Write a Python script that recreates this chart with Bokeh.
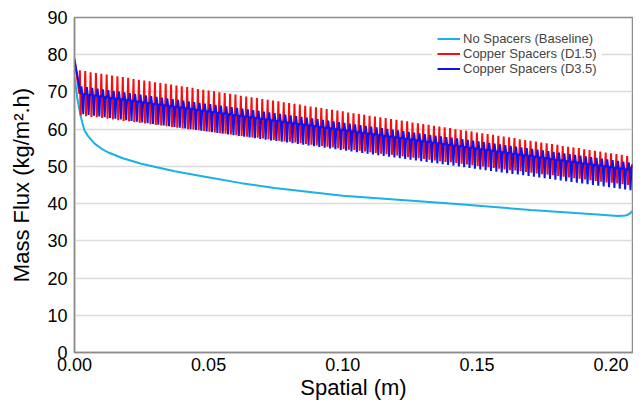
import numpy as np
from bokeh.plotting import figure
from bokeh.models import Range1d, FixedTicker
from bokeh.embed import file_html
from bokeh.resources import INLINE

# ---------------- data ----------------
# Baseline (no spacers)
base_x = [0.0, 0.0003, 0.0006, 0.001, 0.0019, 0.0027, 0.0037, 0.005, 0.0075, 0.01,
          0.0124, 0.018, 0.0249, 0.0373, 0.0497, 0.0622, 0.0746, 0.1, 0.14, 0.17,
          0.195, 0.2026, 0.2055, 0.2068, 0.208]
base_y = [74.0, 72.5, 70.9, 68.5, 65.0, 62.3, 59.7, 58.2, 56.1, 54.8,
          53.8, 52.2, 50.7, 48.7, 47.1, 45.5, 44.2, 42.1, 40.0, 38.3,
          37.1, 36.7, 36.8, 37.2, 38.0]

# Spacer pitch (m) and number of spacer cells
pitch = 0.002
n_spacers = 103
start_red = 79.0
start_blue = 78.5

red_peak = [75.8, 75.6, 75.3, 75.1, 74.9, 74.7, 74.4, 74.2, 74.0, 73.8,
            73.5, 73.3, 73.1, 72.9, 72.6, 72.4, 72.2, 72.0, 71.7, 71.5,
            71.3, 71.1, 70.8, 70.6, 70.4, 70.2, 69.9, 69.7, 69.5, 69.3,
            69.0, 68.8, 68.6, 68.4, 68.1, 67.9, 67.7, 67.5, 67.2, 67.0,
            66.8, 66.6, 66.3, 66.1, 65.9, 65.7, 65.4, 65.2, 65.0, 64.8,
            64.5, 64.3, 64.1, 63.9, 63.6, 63.4, 63.2, 63.0, 62.7, 62.5,
            62.3, 62.1, 61.8, 61.6, 61.4, 61.2, 60.9, 60.7, 60.5, 60.3,
            60.0, 59.8, 59.6, 59.4, 59.1, 58.9, 58.7, 58.5, 58.2, 58.0,
            57.8, 57.6, 57.3, 57.1, 56.9, 56.7, 56.4, 56.2, 56.0, 55.8,
            55.5, 55.3, 55.1, 54.9, 54.6, 54.4, 54.2, 54.0, 53.7, 53.5,
            53.3, 53.1, 52.8]
red_trough = [63.7, 63.5, 63.3, 63.2, 63.0, 62.8, 62.6, 62.4, 62.2, 62.1,
              61.9, 61.7, 61.5, 61.3, 61.1, 61.0, 60.8, 60.6, 60.4, 60.2,
              60.0, 59.9, 59.7, 59.5, 59.3, 59.1, 58.9, 58.8, 58.6, 58.4,
              58.2, 58.0, 57.8, 57.7, 57.5, 57.3, 57.1, 56.9, 56.7, 56.6,
              56.4, 56.2, 56.0, 55.8, 55.6, 55.5, 55.3, 55.1, 54.9, 54.7,
              54.5, 54.4, 54.2, 54.0, 53.8, 53.6, 53.4, 53.3, 53.1, 52.9,
              52.7, 52.5, 52.3, 52.2, 52.0, 51.8, 51.6, 51.4, 51.2, 51.1,
              50.9, 50.7, 50.5, 50.3, 50.1, 50.0, 49.8, 49.6, 49.4, 49.2,
              49.0, 48.9, 48.7, 48.5, 48.3, 48.1, 47.9, 47.8, 47.6, 47.4,
              47.2, 47.0, 46.8, 46.7, 46.5, 46.3, 46.1, 45.9, 45.7, 45.6,
              45.4, 45.2, 45.0]
mid_level = [69.5, 69.3, 69.1, 68.9, 68.7, 68.5, 68.3, 68.1, 67.9, 67.7,
             67.5, 67.3, 67.1, 66.9, 66.7, 66.5, 66.3, 66.1, 65.9, 65.7,
             65.5, 65.3, 65.1, 64.9, 64.7, 64.5, 64.3, 64.1, 63.9, 63.7,
             63.5, 63.3, 63.1, 62.9, 62.7, 62.5, 62.3, 62.1, 61.9, 61.7,
             61.5, 61.3, 61.1, 60.9, 60.7, 60.5, 60.3, 60.1, 59.9, 59.7,
             59.5, 59.3, 59.1, 58.9, 58.7, 58.5, 58.3, 58.1, 57.9, 57.7,
             57.5, 57.3, 57.1, 56.9, 56.7, 56.5, 56.3, 56.1, 55.9, 55.7,
             55.5, 55.3, 55.1, 54.9, 54.7, 54.5, 54.3, 54.1, 53.9, 53.7,
             53.5, 53.3, 53.1, 52.9, 52.7, 52.5, 52.3, 52.1, 51.9, 51.7,
             51.5, 51.3, 51.1, 50.9, 50.7, 50.5, 50.3, 50.1, 49.9, 49.7,
             49.5, 49.3, 49.1]
blue_top = [71.5, 71.3, 71.1, 70.9, 70.7, 70.5, 70.3, 70.1, 69.9, 69.7,
            69.5, 69.3, 69.1, 68.9, 68.7, 68.5, 68.3, 68.1, 67.9, 67.7,
            67.5, 67.3, 67.1, 66.9, 66.7, 66.5, 66.3, 66.1, 65.9, 65.7,
            65.5, 65.3, 65.1, 64.9, 64.7, 64.5, 64.3, 64.1, 63.9, 63.7,
            63.5, 63.3, 63.1, 62.9, 62.7, 62.5, 62.3, 62.1, 61.9, 61.7,
            61.5, 61.3, 61.1, 60.9, 60.7, 60.5, 60.3, 60.1, 59.9, 59.7,
            59.5, 59.3, 59.1, 58.9, 58.7, 58.5, 58.3, 58.1, 57.9, 57.7,
            57.5, 57.3, 57.1, 56.9, 56.7, 56.5, 56.3, 56.1, 55.9, 55.7,
            55.5, 55.3, 55.1, 54.9, 54.7, 54.5, 54.3, 54.1, 53.9, 53.7,
            53.5, 53.3, 53.1, 52.9, 52.7, 52.5, 52.3, 52.1, 51.9, 51.7,
            51.5, 51.3, 51.1]
blue_bottom = [64.0, 63.8, 63.6, 63.4, 63.2, 63.0, 62.8, 62.6, 62.4, 62.2,
               62.0, 61.8, 61.6, 61.4, 61.2, 61.0, 60.8, 60.6, 60.4, 60.2,
               60.0, 59.8, 59.6, 59.4, 59.2, 59.0, 58.8, 58.6, 58.4, 58.2,
               58.0, 57.8, 57.6, 57.4, 57.2, 57.0, 56.8, 56.6, 56.4, 56.2,
               56.0, 55.8, 55.6, 55.4, 55.2, 55.0, 54.8, 54.6, 54.4, 54.2,
               54.0, 53.8, 53.6, 53.4, 53.2, 53.0, 52.8, 52.6, 52.4, 52.2,
               52.0, 51.8, 51.6, 51.4, 51.2, 51.0, 50.8, 50.6, 50.4, 50.2,
               50.0, 49.8, 49.6, 49.4, 49.2, 49.0, 48.8, 48.6, 48.4, 48.2,
               48.0, 47.8, 47.6, 47.4, 47.2, 47.0, 46.8, 46.6, 46.4, 46.2,
               46.0, 45.8, 45.6, 45.4, 45.2, 45.0, 44.8, 44.6, 44.4, 44.2,
               44.0, 43.8, 43.6]

x_ticks = [0.0, 0.05, 0.10, 0.15, 0.20]
x_tick_labels = ["0.00", "0.05", "0.10", "0.15", "0.20"]
y_ticks = [0, 10, 20, 30, 40, 50, 60, 70, 80, 90]

# ------------- build wave traces from per-spacer readings -------------
spacer_x = np.arange(1, n_spacers + 1) * pitch

rx, ry = [0.0], [start_red]
bx, by = [0.0], [start_blue]
for i, s in enumerate(spacer_x):
    rx += [s - 0.0002, s, s + 0.0003, s + 0.0006]
    ry += [mid_level[i], red_peak[i], red_trough[i], mid_level[i]]
    bx += [s + 0.0003, s + 0.0006, s + 0.0009, s + 0.00125, s + 0.0016]
    by += [mid_level[i], blue_top[i], mid_level[i], blue_bottom[i], mid_level[i]]
rx.append(0.208); ry.append(mid_level[-1] + 1.0)
bx.append(0.208); by.append(mid_level[-1] + 1.5)

FONT = "Liberation Sans"

p = figure(width=633, height=408, output_backend="svg", toolbar_location=None,
           x_range=Range1d(0, 0.208), y_range=Range1d(0, 90),
           min_border_left=74, min_border_right=1, min_border_top=17,
           min_border_bottom=56)

p.line(base_x, base_y, color="#1AB0E8", line_width=2, legend_label="No Spacers (Baseline)")
p.line(rx, ry, color="#FF0A0A", line_width=2, legend_label="Copper Spacers (D1.5)")
p.line(bx, by, color="#1212F0", line_width=2, legend_label="Copper Spacers (D3.5)")

p.xaxis.ticker = FixedTicker(ticks=x_ticks)
p.xaxis.major_label_overrides = {t: l for t, l in zip(x_ticks, x_tick_labels)}
p.yaxis.ticker = FixedTicker(ticks=y_ticks)

p.xaxis.axis_label = "Spatial (m)"
p.yaxis.axis_label = "Mass Flux (kg/m\u00b2.h)"

for ax in (p.xaxis, p.yaxis):
    ax.axis_label_text_font = FONT
    ax.axis_label_text_font_size = "22px"
    ax.axis_label_text_font_style = "normal"
    ax.axis_label_text_color = "#000000"
    ax.major_label_text_font = FONT
    ax.major_label_text_font_size = "18px"
    ax.major_label_text_color = "#000000"
    ax.major_tick_out = 0
    ax.major_tick_in = 0
    ax.minor_tick_out = 0
    ax.minor_tick_in = 0
    ax.axis_line_color = "#8C8C8C"
    ax.axis_line_width = 1.5
p.xaxis.major_label_standoff = 5
p.xaxis.axis_label_standoff = 1
p.yaxis.major_label_standoff = 7
p.yaxis.axis_label_standoff = 10

p.xgrid.grid_line_color = None
p.ygrid.grid_line_color = "#DCDCDC"
p.ygrid.grid_line_width = 1.5

p.outline_line_color = "#8C8C8C"
p.outline_line_width = 1.5
p.background_fill_color = "white"
p.border_fill_color = "white"

lg = p.legend[0]
lg.location = (358, 271)
lg.margin = 0
lg.padding = 5
lg.spacing = 0
lg.border_line_alpha = 0
lg.background_fill_alpha = 1
lg.label_text_font = FONT
lg.label_text_font_size = "13px"
lg.label_height = 15
lg.glyph_height = 15
lg.glyph_width = 23
lg.label_standoff = 3

open("out.html", "w").write(file_html(p, INLINE))
